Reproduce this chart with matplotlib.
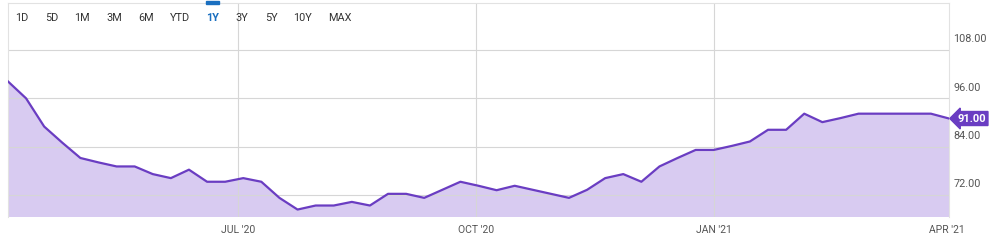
import numpy as np
import pandas as pd
import matplotlib
matplotlib.use("Agg")
import matplotlib.pyplot as plt
import matplotlib.dates as mdates
from matplotlib.patches import Rectangle, Polygon

plt.rcParams['font.family'] = ['Roboto', 'DejaVu Sans']

# weekly closes, Apr 3 2020 - Apr 2 2021
dates = pd.date_range("2020-04-03", periods=53, freq="7D")
values = [100.2, 96.0, 89.0, 85.0, 81.2, 80.1, 79.1, 79.1, 77.2, 76.2,
          78.3, 75.3, 75.3, 76.2, 75.3, 71.3, 68.4, 69.4, 69.4, 70.3,
          69.4, 72.3, 72.3, 71.3, 73.3, 75.3, 74.3, 73.2, 74.3, 73.3,
          72.3, 71.3, 73.3, 76.2, 77.2, 75.3, 79.1, 81.2, 83.2, 83.2,
          84.2, 85.3, 88.2, 88.2, 92.2, 90.1, 91.1, 92.2, 92.2, 92.2,
          92.2, 92.2, 91.0]
last_label = "91.00"

y_ticks = [72, 84, 96, 108]
x_tick_dates = pd.to_datetime(["2020-07-01", "2020-10-01", "2021-01-01", "2021-04-01"])
x_tick_labels = ["JUL '20", "OCT '20", "JAN '21", "APR '21"]
buttons = ["1D", "5D", "1M", "3M", "6M", "YTD", "1Y", "3Y", "5Y", "10Y", "MAX"]
button_x = [22, 52, 82, 114, 146, 180, 213, 242, 271, 302, 340]

W, H = 1004, 245
fig = plt.figure(figsize=(W / 100, H / 100), dpi=100)
ax = fig.add_axes([8 / W, 1 - 217 / H, (949 - 8) / W, (217 - 2.5) / H])

line_c = "#6a3dc2"
fill_c = "#d8cbf1"
grid_c = "#e2e2e2"

ax.fill_between(dates, values, 0, color=fill_c, lw=0, zorder=1)
ax.plot(dates, values, color=line_c, lw=1.6, zorder=3, solid_joinstyle="round")

ax.set_xlim(dates[0], dates[-1])
ax.set_ylim(66.55, 119.8)

for v in y_ticks:
    ax.axhline(v, color="#d6d6d6", lw=0.8, zorder=2)
    ax.annotate(f"{v:.2f}", xy=(1, v), xycoords=("axes fraction", "data"),
                xytext=(3, 4), textcoords="offset points", ha="left", va="bottom",
                fontsize=7.8, color="#555555", annotation_clip=False)
for d in x_tick_dates[:-1]:
    ax.axvline(d, color="#d6d6d6", lw=0.8, zorder=2)

ax.set_xticks(x_tick_dates)
ax.set_xticklabels(x_tick_labels, fontsize=7.5, color="#555555")
ax.tick_params(axis="x", length=0, pad=6)
ax.set_yticks([])
for s in ["left", "right", "top"]:
    ax.spines[s].set_color(grid_c)
    ax.spines[s].set_linewidth(0.8)
ax.spines["bottom"].set_visible(False)

# price tag on the right
yv = values[-1]
tag = fig.transFigure.inverted()
ax.annotate(last_label, xy=(1, yv), xycoords=("axes fraction", "data"),
            xytext=(6, 0), textcoords="offset points", ha="left", va="center",
            fontsize=8, fontweight="bold", color="white", annotation_clip=False,
            bbox=dict(boxstyle="larrow,pad=0.18", fc=line_c, ec=line_c))

# range buttons
for lab, bx in zip(buttons, button_x):
    sel = lab == "1Y"
    fig.text(bx / W, 1 - 18 / H, lab, ha="center", va="center", fontsize=7.8,
             color="#1a6fc0" if sel else "#333333",
             fontweight="bold" if sel else "normal")
fig.patches.append(Rectangle((206 / W, 1 - 4 / H), 13 / W, 3 / H,
                             transform=fig.transFigure, color="#1a6fc0", zorder=5))

fig.savefig("out.png", dpi=100)
